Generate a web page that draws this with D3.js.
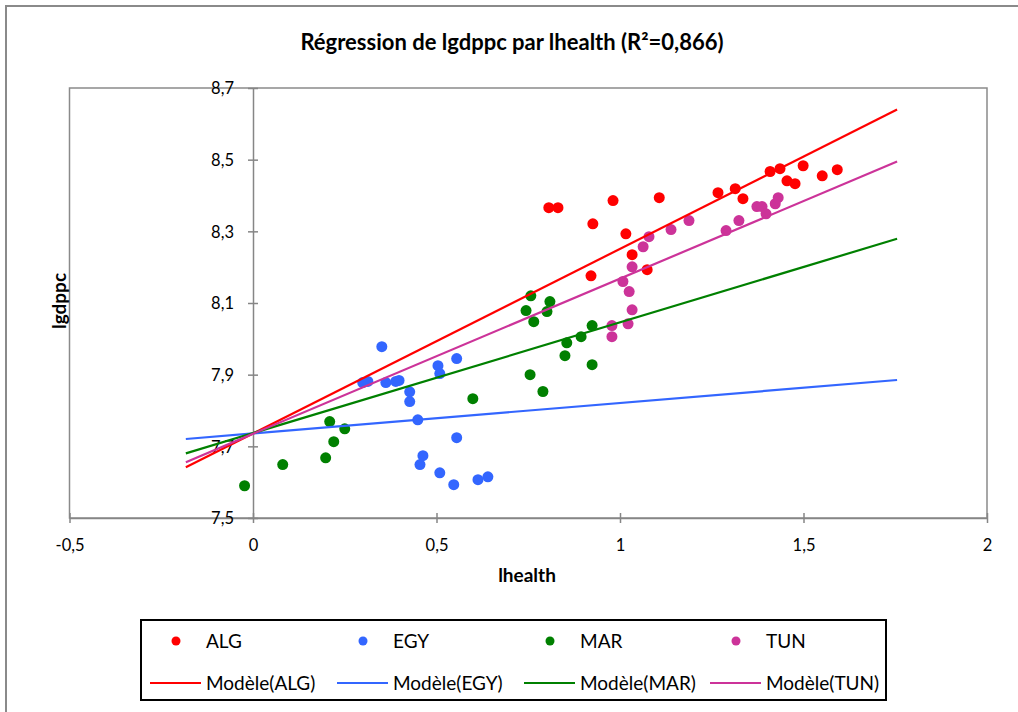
<!DOCTYPE html>
<html>
<head>
<meta charset="utf-8">
<script src="https://cdn.jsdelivr.net/npm/d3@7"></script>
<style>
  body { margin: 0; background: #fff; }
  svg { display: block; font-family: Lato, 'Open Sans', sans-serif; }
  .axis path, .axis line { stroke: #868686; stroke-width: 1.5; }
  .axis text { font-size: 16.5px; fill: #000; }
</style>
</head>
<body>
<svg id="chart"></svg>
<script>
const series = ['ALG', 'EGY', 'MAR', 'TUN'];
const colors = ['#ff0000', '#3366ff', '#008000', '#cc3399'];

// points: [lhealth, lgdppc]
const algPoints = [
    [0.806, 8.366], [0.831, 8.366], [0.981, 8.386], [1.107, 8.394], [0.926, 8.321],
    [1.016, 8.293], [1.033, 8.235], [0.921, 8.176], [1.074, 8.193], [1.267, 8.408],
    [1.314, 8.419], [1.335, 8.391], [1.409, 8.467], [1.436, 8.475], [1.499, 8.483],
    [1.455, 8.441], [1.477, 8.433], [1.551, 8.455], [1.592, 8.472]
];
const egyPoints = [
    [0.351, 7.978], [0.299, 7.878], [0.313, 7.881], [0.362, 7.878], [0.389, 7.881],
    [0.398, 7.884], [0.427, 7.852], [0.427, 7.825], [0.449, 7.774], [0.463, 7.674],
    [0.455, 7.649], [0.504, 7.925], [0.509, 7.903], [0.555, 7.945], [0.555, 7.724],
    [0.509, 7.626], [0.547, 7.593], [0.613, 7.607], [0.640, 7.615]
];
const marPoints = [
    [-0.023, 7.590], [0.081, 7.649], [0.198, 7.668], [0.209, 7.769], [0.220, 7.713],
    [0.250, 7.749], [0.599, 7.833], [0.755, 7.900], [0.790, 7.853], [0.744, 8.079],
    [0.757, 8.120], [0.765, 8.048], [0.801, 8.076], [0.809, 8.104], [0.855, 7.989],
    [0.850, 7.953], [0.894, 8.006], [0.924, 8.037], [0.924, 7.928]
];
const tunPoints = [
    [1.079, 8.285], [1.063, 8.257], [1.033, 8.201], [1.008, 8.160], [1.025, 8.132],
    [1.033, 8.081], [0.978, 8.037], [0.978, 8.006], [1.022, 8.042], [1.139, 8.305],
    [1.188, 8.330], [1.289, 8.302], [1.324, 8.330], [1.373, 8.369], [1.387, 8.369],
    [1.398, 8.349], [1.423, 8.377], [1.431, 8.394]
];

// fitted models: lgdppc = intercept + slope * lhealth
const intercepts = [7.736, 7.736, 7.737, 7.735];
const slopes = [0.515, 0.085, 0.309, 0.433];
const modelRange = [-0.183, 1.755];

const xTicks = [-0.5, 0, 0.5, 1, 1.5, 2];
const yTicks = [7.5, 7.7, 7.9, 8.1, 8.3, 8.5, 8.7];

const width = 1018;
const height = 712;
const plot = { left: 69.5, right: 987, top: 88, bottom: 518 };

const svg = d3.select('#chart')
    .attr('width', width)
    .attr('height', height);

// outer chart frame (runs past the right and bottom edges)
svg.append('rect')
    .attr('x', 6)
    .attr('y', 6)
    .attr('width', width + 20)
    .attr('height', height + 20)
    .attr('fill', '#fff')
    .attr('stroke', '#8a8a8a')
    .attr('stroke-width', 2);

svg.append('text')
    .attr('x', 512)
    .attr('y', 50)
    .attr('text-anchor', 'middle')
    .style('font-size', '22px')
    .style('font-weight', 'bold')
    .text('Régression de lgdppc par lhealth (R²=0,866)');

const x = d3.scaleLinear()
    .domain([-0.5, 2])
    .range([plot.left, plot.right]);

const y = d3.scaleLinear()
    .domain([7.5, 8.7])
    .range([plot.bottom, plot.top]);

const fmt = v => d3.format('')(v).replace('.', ',').replace('−', '-');

svg.append('rect')
    .attr('x', plot.left)
    .attr('y', plot.top)
    .attr('width', plot.right - plot.left)
    .attr('height', plot.bottom - plot.top)
    .attr('fill', 'none')
    .attr('stroke', '#8a8a8a')
    .attr('stroke-width', 1.5);

const xAxis = d3.axisBottom(x)
    .tickValues(xTicks)
    .tickFormat(fmt)
    .tickSizeInner(5)
    .tickSizeOuter(0)
    .tickPadding(16);

const yAxis = d3.axisLeft(y)
    .tickValues(yTicks)
    .tickFormat(d => d3.format('.1f')(d).replace('.', ','))
    .tickSizeInner(5)
    .tickSizeOuter(0)
    .tickPadding(14);

const xAxisG = svg.append('g').attr('class', 'axis axis--x')
    .attr('transform', `translate(0,${y(7.5)})`)
    .call(xAxis);
xAxisG.selectAll('.tick line').attr('y1', -5);

const yAxisG = svg.append('g').attr('class', 'axis axis--y')
    .attr('transform', `translate(${x(0)},0)`)
    .call(yAxis);
yAxisG.selectAll('.tick line').attr('x1', 5);
yAxisG.selectAll('.tick text').attr('dy', '0.36em');

svg.selectAll('.axis text').style('font-family', 'Lato, sans-serif');

svg.append('text')
    .attr('x', 527)
    .attr('y', 582)
    .attr('text-anchor', 'middle')
    .style('font-size', '19px')
    .style('font-weight', 'bold')
    .text('lhealth');

svg.append('text')
    .attr('transform', `translate(66,${(plot.top + plot.bottom) / 2 - 2}) rotate(-90)`)
    .attr('text-anchor', 'middle')
    .style('font-size', '19px')
    .style('font-weight', 'bold')
    .text('lgdppc');

const allPoints = [algPoints, egyPoints, marPoints, tunPoints];

const pointsG = svg.append('g').attr('class', 'points');
allPoints.forEach((pts, i) => {
    pointsG.append('g')
        .selectAll('circle').data(pts)
        .enter().append('circle')
        .attr('cx', d => x(d[0]))
        .attr('cy', d => y(d[1]))
        .attr('r', 5.5)
        .attr('fill', colors[i]);
});

const line = d3.line()
    .x(d => x(d[0]))
    .y(d => y(d[1]));

const models = series.map((s, i) => modelRange.map(v => [v, intercepts[i] + slopes[i] * v]));

svg.append('g').attr('class', 'models')
    .selectAll('path').data(models)
    .enter().append('path')
    .attr('d', line)
    .attr('fill', 'none')
    .attr('stroke', (d, i) => colors[i])
    .attr('stroke-width', 2.2);

// legend
const legend = svg.append('g').attr('class', 'legend');
legend.append('rect')
    .attr('x', 141)
    .attr('y', 620)
    .attr('width', 745)
    .attr('height', 80)
    .attr('fill', '#fff')
    .attr('stroke', '#000')
    .attr('stroke-width', 2);

const legendX = [150, 337, 524, 710];

const dotItem = legend.selectAll('.dot-item').data(series)
    .enter().append('g')
    .attr('class', 'dot-item')
    .attr('transform', (d, i) => `translate(${legendX[i]},641)`);

dotItem.append('circle')
    .attr('cx', 26)
    .attr('r', 4.5)
    .attr('fill', (d, i) => colors[i]);

dotItem.append('text')
    .attr('x', 56)
    .attr('dy', '0.36em')
    .style('font-size', '19px')
    .text(d => d);

const lineItem = legend.selectAll('.line-item').data(series)
    .enter().append('g')
    .attr('class', 'line-item')
    .attr('transform', (d, i) => `translate(${legendX[i]},683)`);

lineItem.append('line')
    .attr('x1', 0)
    .attr('x2', 51)
    .attr('stroke', (d, i) => colors[i])
    .attr('stroke-width', 2.2);

lineItem.append('text')
    .attr('x', 56)
    .attr('dy', '0.36em')
    .style('font-size', '19px')
    .text(d => `Modèle(${d})`);
</script>
</body>
</html>
